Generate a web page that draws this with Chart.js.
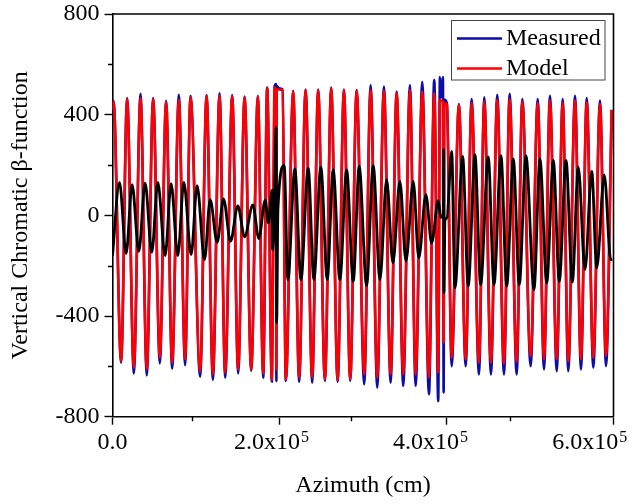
<!DOCTYPE html>
<html>
<head>
<meta charset="utf-8">
<script src="https://cdn.jsdelivr.net/npm/chart.js@4.4.1/dist/chart.umd.min.js"></script>
<style>
  html, body { margin: 0; padding: 0; background: #fff; }
</style>
</head>
<body>
<canvas id="myChart" width="627" height="504"></canvas>
<script>
// azimuth (cm) of the model / measured turning points
const azimuth = [
  0, 1300, 10800, 18400, 26800, 35200, 43100, 51100, 59500, 67400,
  75000, 83400, 91300, 98100, 110200, 118300, 126200, 134600, 141700, 150500,
  158000, 166100, 174400, 182800, 189500, 194500, 200400, 203800, 205700, 206100,
  206400, 209200, 213900, 218000, 227200, 234700, 242800, 251100, 258600, 267100,
  275000, 283100, 291000, 298900, 307000, 316500, 324600, 332900, 341300, 349700,
  357300, 365600, 374000, 381200, 389500, 397900, 404600, 409600, 411700, 413600,
  415500, 416400, 417200, 420500, 426500, 435600, 444100, 451600, 460800, 467500,
  475900, 483800, 492300, 499400, 508200, 515300, 525800, 534700, 542600, 550100,
  558600, 566100, 573100, 581600, 589100, 596300, 604600, 613000, 620600, 627700
];
const model = [
  420, 452, -579, 462, -605, 466, -612, 462, -566, 450,
  -586, 459, -572, 470, -619, 475, -632, 475, -625, 475,
  -612, 470, -612, 472, -628, 505, -652, 508, 500, -612,
  500, 500, 498, -652, 492, -645, 498, -645, 498, -652,
  505, -655, 498, -652, 496, -632, 498, -645, 496, -632,
  488, -632, 498, -632, 492, -645, 485, -624, 459, 455,
  450, -505, 445, 440, -566, 439, -572, 446, -586, 452,
  -586, 459, -590, 462, -582, 452, -559, 446, -572, 456,
  -572, 446, -580, 456, -572, 450, -566, 443, -559, 419
];
const measured = [
  410, 455, -585, 466, -628, 483, -636, 466, -588, 455,
  -609, 479, -595, 475, -641, 478, -654, 485, -645, 478,
  -628, 472, -618, 474, -645, 508, -660, 512, 522, -658,
  515, 505, 500, -658, 495, -662, 500, -665, 500, -658,
  508, -662, 500, -658, 498, -671, 518, -685, 512, -665,
  492, -678, 518, -678, 531, -711, 538, -738, 549, 470,
  549, -704, 460, 445, -599, 442, -599, 462, -632, 469,
  -632, 479, -632, 483, -632, 462, -599, 462, -612, 475,
  -619, 462, -619, 475, -612, 466, -605, 456, -599, 419
];

// black curve (not in the legend)
const blackAzimuth = [
  0, 8800, 17100, 24700, 33100, 41000, 49400, 57000, 66200, 73700,
  82100, 89700, 98900, 106400, 115700, 122800, 131600, 139600, 148400, 157600,
  166100, 176500, 184000, 192000, 196000, 200800, 201200, 203500, 205700, 206400,
  208000, 215900, 220500, 229300, 236900, 246100, 253200, 262000, 270000, 277500,
  285900, 294400, 302700, 310200, 319500, 327800, 336300, 344700, 352600, 361400,
  369000, 378200, 385100, 394100, 401300, 409600, 413000, 416100, 416400, 416800,
  418000, 420500, 426500, 430600, 440300, 447300, 455800, 462900, 472500, 479700,
  488500, 495700, 504000, 511500, 519900, 530000, 537500, 546000, 554300, 561800,
  570300, 578200, 585700, 594200, 602600, 608900, 618400, 626500, 628500
];
const blackValues = [
  -160, 131, -152, 122, -143, 128, -147, 131, -160, 126,
  -160, 131, -156, 118, -176, 62, -107, 65, -103, 38,
  -85, 42, -92, 60, -30, 100, -136, -5, 348, -426,
  22, 198, -255, 185, -255, 188, -255, 192, -255, 181,
  -255, 181, -262, 194, -279, 197, -255, 142, -189, 135,
  -182, 135, -169, 82, -110, 58, -8, 0, 261, -307,
  -20, -10, 254, -288, 234, -281, 241, -275, 232, -275,
  237, -281, 224, -275, 237, -295, 224, -268, 218, -262,
  218, -265, 192, -215, 175, -209, 161, -176, -176
];

const xTicks = [0, 200000, 400000, 600000];
const xTickText = ["0.0", "2.0x10", "4.0x10", "6.0x10"];
const xTickExp = ["", "5", "5", "5"];
const xMinor = [100000, 300000, 500000];
const yMinor = [-600, -200, 200, 600];
const legendNames = ["Measured", "Model"];

const FONT = '"Liberation Serif", "Times New Roman", serif';
const BLUE = "#0c0ca8";
const RED = "#ff0000";

const toPoints = (xs, ys) => xs.map((x, i) => ({ x: x, y: ys[i] }));

const extras = {
  id: "extras",
  afterDraw(chart) {
    const { ctx, chartArea: a, scales } = chart;
    ctx.save();
    ctx.strokeStyle = "#000";
    ctx.lineWidth = 1.6;
    ctx.beginPath();
    ctx.moveTo(a.left, a.top);
    ctx.lineTo(a.right, a.top);
    ctx.lineTo(a.right, a.bottom);
    ctx.stroke();

    // minor ticks
    ctx.lineWidth = 1.4;
    ctx.beginPath();
    yMinor.forEach((v) => {
      const py = Math.round(scales.y.getPixelForValue(v)) + 0.5;
      ctx.moveTo(a.left - 4.5, py);
      ctx.lineTo(a.left, py);
    });
    xMinor.forEach((v) => {
      const px = Math.round(scales.x.getPixelForValue(v)) + 0.5;
      ctx.moveTo(px, a.bottom);
      ctx.lineTo(px, a.bottom + 4.5);
    });
    ctx.stroke();

    // x tick labels with exponent
    ctx.fillStyle = "#000";
    ctx.textBaseline = "alphabetic";
    ctx.textAlign = "left";
    xTicks.forEach((v, i) => {
      const px = scales.x.getPixelForValue(v);
      ctx.font = "24px " + FONT;
      const wMain = ctx.measureText(xTickText[i]).width;
      ctx.font = "16px " + FONT;
      const wExp = xTickExp[i] ? ctx.measureText(xTickExp[i]).width + 1 : 0;
      const start = px - (wMain + wExp) / 2;
      ctx.font = "24px " + FONT;
      ctx.fillText(xTickText[i], start, a.bottom + 32.3);
      if (xTickExp[i]) {
        ctx.font = "16px " + FONT;
        ctx.fillText(xTickExp[i], start + wMain + 1, a.bottom + 25);
      }
    });

    // legend box
    ctx.fillStyle = "#fff";
    ctx.fillRect(451, 20.5, 154, 59.5);
    ctx.strokeStyle = "#444";
    ctx.lineWidth = 1;
    ctx.strokeRect(451.5, 20.5, 153.5, 59.5);
    [BLUE, RED].forEach((c, i) => {
      const y = 38.5 + i * 30;
      ctx.strokeStyle = c;
      ctx.lineWidth = 2.5;
      ctx.beginPath();
      ctx.moveTo(457, y);
      ctx.lineTo(502, y);
      ctx.stroke();
      ctx.fillStyle = "#000";
      ctx.font = "24px " + FONT;
      ctx.fillText(legendNames[i], 506, 45 + i * 30);
    });
    ctx.restore();
  },
};

const axisLine = { display: true, color: "#000", width: 1.6 };
const tickGrid = { drawOnChartArea: false, drawTicks: true, tickLength: 8, tickColor: "#000", tickWidth: 1.4 };

const config = {
  type: "line",
  data: {
    datasets: [
      {
        label: legendNames[0],
        data: toPoints(azimuth, measured),
        borderColor: BLUE,
        borderWidth: 2.6,
        order: 3,
      },
      {
        label: legendNames[1],
        data: toPoints(azimuth, model),
        borderColor: RED,
        borderWidth: 2.6,
        order: 2,
      },
      {
        label: "other",
        data: toPoints(blackAzimuth, blackValues),
        borderColor: "#000",
        borderWidth: 2.8,
        order: 1,
      },
    ],
  },
  options: {
    responsive: false,
    animation: false,
    events: [],
    layout: { padding: { top: 14, right: 13.5, left: 0, bottom: 0 } },
    elements: {
      point: { radius: 0 },
      line: { cubicInterpolationMode: "monotone", fill: false },
    },
    plugins: { legend: { display: false }, tooltip: { enabled: false } },
    scales: {
      x: {
        type: "linear",
        min: 0,
        max: 630000,
        afterFit(s) {
          s.height = 87.3;
          s.paddingLeft = 0;
          s.paddingRight = 0;
        },
        ticks: { display: false, stepSize: 200000, includeBounds: false },
        grid: tickGrid,
        border: axisLine,
        title: {
          display: true,
          text: "Azimuth (cm)",
          color: "#000",
          font: { family: FONT, size: 24 },
          padding: { top: 0, bottom: 4.3 },
        },
      },
      y: {
        min: -800,
        max: 800,
        afterFit(s) {
          s.width = 112.5;
          s.paddingTop = 0;
          s.paddingBottom = 0;
        },
        ticks: { stepSize: 400, padding: 5, color: "#000", font: { family: FONT, size: 24 } },
        grid: tickGrid,
        border: axisLine,
        title: {
          display: true,
          text: "Vertical Chromatic β-function",
          color: "#000",
          font: { family: FONT, size: 24 },
          padding: { top: 6, bottom: 0 },
        },
      },
    },
  },
  plugins: [extras],
};

new Chart(document.getElementById("myChart"), config);
</script>
</body>
</html>
